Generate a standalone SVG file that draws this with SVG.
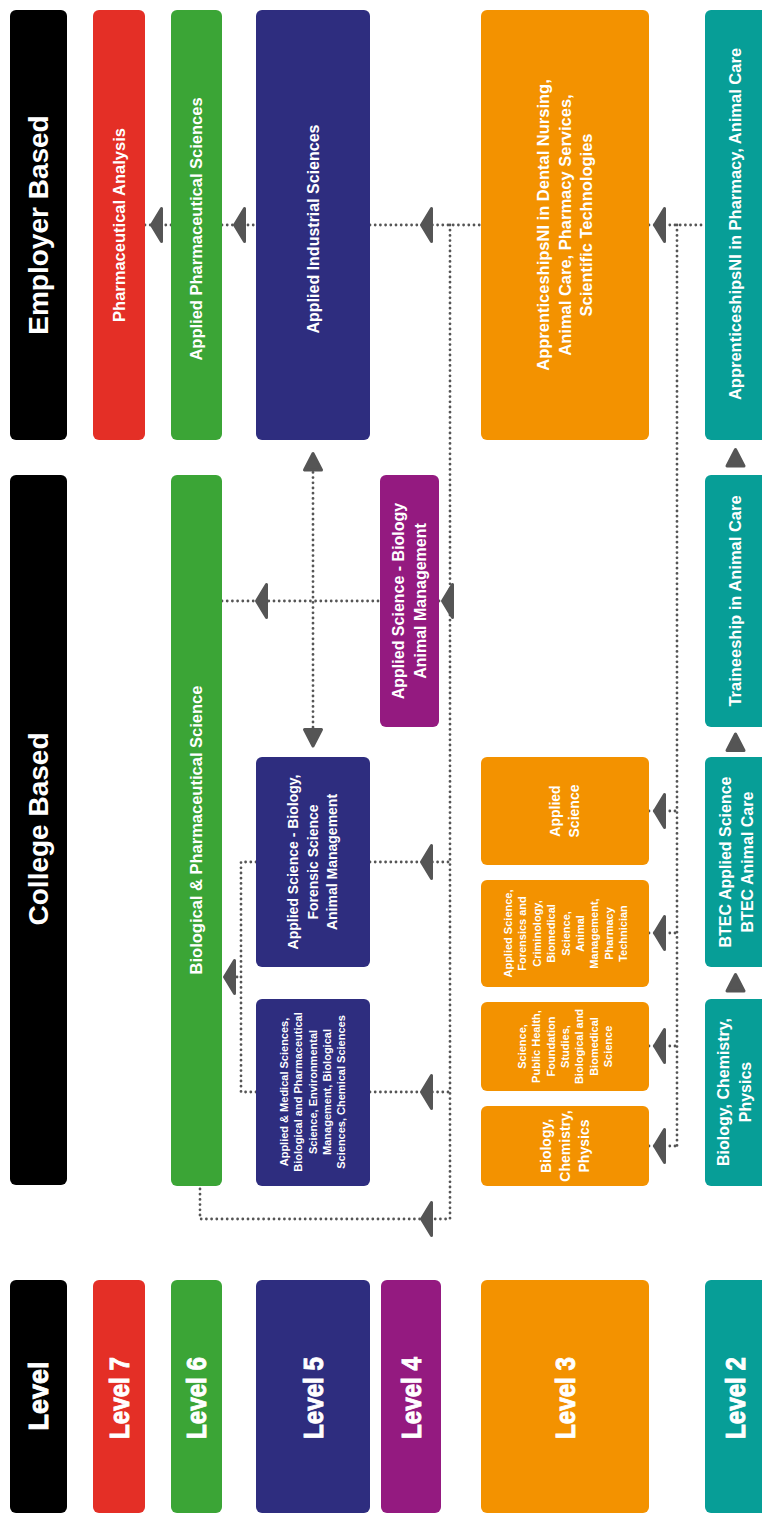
<svg xmlns="http://www.w3.org/2000/svg" xmlns:xlink="http://www.w3.org/1999/xlink" width="762" height="1515" viewBox="0 0 762 1515">
<style>
.t{font-family:"Liberation Sans",Arial,sans-serif;font-weight:bold;fill:#fff;text-anchor:middle}
.h{font-size:28px}
.lv{font-size:28px;stroke:#fff;stroke-width:0.9px}
.f16{font-size:16.5px}
.f16b{font-size:16px}
.f14{font-size:14px}
.f11{font-size:11px}
.dot{fill:none;stroke:#555;stroke-width:2.8;stroke-dasharray:0 5.2;stroke-linecap:round}
.ah{fill:#555;stroke:#555;stroke-width:3;stroke-linejoin:round}
.blk{fill:#000}.red{fill:#E42F26}.grn{fill:#3BA536}.nav{fill:#2E2D7F}.pur{fill:#941A80}.org{fill:#F39200}.tea{fill:#079E97}
</style>
<defs>
<path id="al" class="ah" d="M1.5,0 L11.5,-16.5 L11.5,16.5 Z"/>
<path id="au" class="ah" d="M0,-8.5 L-8.5,8 L8.5,8 Z"/>
</defs>
<rect width="762" height="1515" fill="#fff"/>

<g id="connectors">
<path class="dot" d="M145,225 H171"/>
<path class="dot" d="M222,225 H256"/>
<path class="dot" d="M370,225 H481"/>
<path class="dot" d="M649,225 H705"/>
<path class="dot" d="M450,225 V1219 H200 V1186"/>
<path class="dot" d="M222,601 H380"/>
<path class="dot" d="M439,601 H450"/>
<path class="dot" d="M313,462 V737"/>
<path class="dot" d="M370,862 H450"/>
<path class="dot" d="M370,1092 H450"/>
<path class="dot" d="M256,862 H241 V1092 H256"/>
<path class="dot" d="M237,977 H241"/>
<path class="dot" d="M677,225 V1146"/>
<path class="dot" d="M649,811 H677"/>
<path class="dot" d="M649,933 H677"/>
<path class="dot" d="M649,1046 H677"/>
<path class="dot" d="M649,1146 H677"/>
<use xlink:href="#al" x="150" y="225"/>
<use xlink:href="#al" x="233" y="225"/>
<use xlink:href="#al" x="420" y="225"/>
<use xlink:href="#al" x="653" y="225"/>
<use xlink:href="#al" x="420" y="1219"/>
<use xlink:href="#al" x="255" y="601"/>
<use xlink:href="#al" x="441" y="601"/>
<use xlink:href="#al" x="420" y="862"/>
<use xlink:href="#al" x="420" y="1092"/>
<use xlink:href="#al" x="223" y="977"/>
<use xlink:href="#al" x="653" y="811"/>
<use xlink:href="#al" x="653" y="933"/>
<use xlink:href="#al" x="653" y="1046"/>
<use xlink:href="#al" x="653" y="1146"/>
<use xlink:href="#au" x="313" y="462"/>
<use xlink:href="#au" transform="translate(313,737.5) rotate(180)"/>
<use xlink:href="#au" x="735.5" y="458"/>
<use xlink:href="#au" x="735.5" y="742.5"/>
<use xlink:href="#au" x="735.5" y="983"/>
</g>

<!-- Employer row -->
<g id="employer-based">
<rect class="blk" x="10" y="10" width="57" height="430" rx="6"/>
<text class="t h" transform="translate(38,225) rotate(-90)" x="0" y="10.1">Employer Based</text>
</g>
<g id="pharmaceutical-analysis">
<rect class="red" x="93" y="10" width="52" height="430" rx="6"/>
<text class="t f16" transform="translate(119,225) rotate(-90)" x="0" y="5.9">Pharmaceutical Analysis</text>
</g>
<g id="applied-pharmaceutical-sciences">
<rect class="grn" x="171" y="10" width="51" height="430" rx="6"/>
<text class="t f16" transform="translate(196,229) rotate(-90)" x="0" y="5.9">Applied Pharmaceutical Sciences</text>
</g>
<g id="applied-industrial-sciences">
<rect class="nav" x="256" y="10" width="114" height="430" rx="6"/>
<text class="t f16b" transform="translate(313,229) rotate(-90)" x="0" y="5.8">Applied Industrial Sciences</text>
</g>
<g id="apprenticeships-l3">
<rect class="org" x="481" y="10" width="168" height="430" rx="6"/>
<text class="t f16" transform="translate(565,225) rotate(-90)"><tspan x="0" y="-15.6">ApprenticeshipsNI in Dental Nursing,</tspan><tspan x="0" y="5.9">Animal Care, Pharmacy Services,</tspan><tspan x="0" y="27.4">Scientific Technologies</tspan></text>
</g>
<g id="apprenticeships-l2">
<rect class="tea" x="705" y="10" width="62" height="430" rx="6"/>
<text class="t f16" transform="translate(735,224) rotate(-90)" x="0" y="5.9">ApprenticeshipsNI in Pharmacy, Animal Care</text>
</g>

<!-- College row -->
<g id="college-based">
<rect class="blk" x="10" y="475" width="57" height="710" rx="6"/>
<text class="t h" transform="translate(38,829) rotate(-90)" x="0" y="10.1">College Based</text>
</g>
<g id="bio-pharm-science">
<rect class="grn" x="171" y="475" width="51" height="711" rx="6"/>
<text class="t f16" transform="translate(196,830) rotate(-90)" x="0" y="5.9">Biological &amp; Pharmaceutical Science</text>
</g>
<g id="applied-science-biology-l4">
<rect class="pur" x="380" y="475" width="59" height="252" rx="6"/>
<text class="t f16b" transform="translate(409,601) rotate(-90)"><tspan x="0" y="-5.2">Applied Science - Biology</tspan><tspan x="0" y="16.8">Animal Management</tspan></text>
</g>
<g id="applied-science-forensic-l5">
<rect class="nav" x="256" y="757" width="114" height="210" rx="6"/>
<text class="t f14" transform="translate(312.5,862) rotate(-90)"><tspan x="0" y="-14.5">Applied Science - Biology,</tspan><tspan x="0" y="5">Forensic Science</tspan><tspan x="0" y="24.5">Animal Management</tspan></text>
</g>
<g id="applied-medical-sciences-l5">
<rect class="nav" x="256" y="999" width="114" height="187" rx="6"/>
<text class="t f11" transform="translate(312.5,1092) rotate(-90)"><tspan x="0" y="-24.5">Applied &amp; Medical Sciences,</tspan><tspan x="0" y="-10.25">Biological and Pharmaceutical</tspan><tspan x="0" y="4">Science, Environmental</tspan><tspan x="0" y="18.25">Management, Biological</tspan><tspan x="0" y="32.5">Sciences, Chemical Sciences</tspan></text>
</g>
<g id="applied-science-l3">
<rect class="org" x="481" y="757" width="168" height="108" rx="6"/>
<text class="t f14" transform="translate(564.5,811) rotate(-90)"><tspan x="0" y="-4.5">Applied</tspan><tspan x="0" y="14.5">Science</tspan></text>
</g>
<g id="forensics-l3">
<rect class="org" x="481" y="880" width="168" height="107" rx="6"/>
<text class="t f11" transform="translate(565.5,933.5) rotate(-90)"><tspan x="0" y="-53.6">Applied Science,</tspan><tspan x="0" y="-39.2">Forensics and</tspan><tspan x="0" y="-24.8">Criminology,</tspan><tspan x="0" y="-10.4">Biomedical</tspan><tspan x="0" y="4">Science,</tspan><tspan x="0" y="18.4">Animal</tspan><tspan x="0" y="32.8">Management,</tspan><tspan x="0" y="47.2">Pharmacy</tspan><tspan x="0" y="61.6">Technician</tspan></text>
</g>
<g id="public-health-l3">
<rect class="org" x="481" y="1002" width="168" height="89" rx="6"/>
<text class="t f11" transform="translate(565,1046.5) rotate(-90)"><tspan x="0" y="-39.2">Science,</tspan><tspan x="0" y="-24.8">Public Health,</tspan><tspan x="0" y="-10.4">Foundation</tspan><tspan x="0" y="4">Studies,</tspan><tspan x="0" y="18.4">Biological and</tspan><tspan x="0" y="32.8">Biomedical</tspan><tspan x="0" y="47.2">Science</tspan></text>
</g>
<g id="bcp-l3">
<rect class="org" x="481" y="1106" width="168" height="80" rx="6"/>
<text class="t f14" transform="translate(565,1146) rotate(-90)"><tspan x="0" y="-14">Biology,</tspan><tspan x="0" y="5">Chemistry,</tspan><tspan x="0" y="24">Physics</tspan></text>
</g>
<g id="traineeship-l2">
<rect class="tea" x="705" y="475" width="62" height="252" rx="6"/>
<text class="t f16" transform="translate(735,601) rotate(-90)" x="0" y="5.9">Traineeship in Animal Care</text>
</g>
<g id="btec-l2">
<rect class="tea" x="705" y="757" width="62" height="210" rx="6"/>
<text class="t f16b" transform="translate(736,862) rotate(-90)"><tspan x="0" y="-5.2">BTEC Applied Science</tspan><tspan x="0" y="16.8">BTEC Animal Care</tspan></text>
</g>
<g id="bcp-l2">
<rect class="tea" x="705" y="999" width="62" height="187" rx="6"/>
<text class="t f16b" transform="translate(734,1092) rotate(-90)"><tspan x="0" y="-5.2">Biology, Chemistry,</tspan><tspan x="0" y="16.8">Physics</tspan></text>
</g>

<!-- Level row -->
<g id="level-header">
<rect class="blk" x="10" y="1280" width="57" height="233" rx="6"/>
<text class="t lv" transform="translate(38,1396) rotate(-90)" x="0" y="10.1" textLength="69" lengthAdjust="spacingAndGlyphs">Level</text>
</g>
<g id="level-7">
<rect class="red" x="93" y="1280" width="52" height="233" rx="6"/>
<text class="t lv" transform="translate(119,1398) rotate(-90)" x="0" y="10.1" textLength="82" lengthAdjust="spacingAndGlyphs">Level 7</text>
</g>
<g id="level-6">
<rect class="grn" x="171" y="1280" width="51" height="233" rx="6"/>
<text class="t lv" transform="translate(196,1398) rotate(-90)" x="0" y="10.1" textLength="82" lengthAdjust="spacingAndGlyphs">Level 6</text>
</g>
<g id="level-5">
<rect class="nav" x="256" y="1280" width="114" height="233" rx="6"/>
<text class="t lv" transform="translate(313,1398) rotate(-90)" x="0" y="10.1" textLength="82" lengthAdjust="spacingAndGlyphs">Level 5</text>
</g>
<g id="level-4">
<rect class="pur" x="381" y="1280" width="60" height="233" rx="6"/>
<text class="t lv" transform="translate(411,1398) rotate(-90)" x="0" y="10.1" textLength="82" lengthAdjust="spacingAndGlyphs">Level 4</text>
</g>
<g id="level-3">
<rect class="org" x="481" y="1280" width="168" height="233" rx="6"/>
<text class="t lv" transform="translate(565,1398) rotate(-90)" x="0" y="10.1" textLength="82" lengthAdjust="spacingAndGlyphs">Level 3</text>
</g>
<g id="level-2">
<rect class="tea" x="705" y="1280" width="62" height="233" rx="6"/>
<text class="t lv" transform="translate(735,1398) rotate(-90)" x="0" y="10.1" textLength="82" lengthAdjust="spacingAndGlyphs">Level 2</text>
</g>
</svg>
